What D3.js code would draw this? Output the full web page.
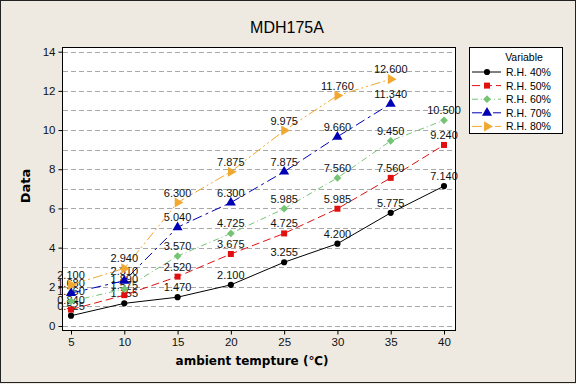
<!DOCTYPE html>
<html>
<head>
<meta charset="utf-8">
<script src="https://cdn.jsdelivr.net/npm/d3@7"></script>
<style>
  html, body { margin: 0; padding: 0; background: #eeeae2; }
  svg { display: block; }
</style>
</head>
<body>
<div id="chart"></div>
<script>
const temps = [5, 10, 15, 20, 25, 30, 35, 40];
const seriesNames = ["R.H. 40%", "R.H. 50%", "R.H. 60%", "R.H. 70%", "R.H. 80%"];
const rh40 = [0.525, 1.155, 1.470, 2.100, 3.255, 4.200, 5.775, 7.140];
const rh50 = [0.840, 1.575, 2.520, 3.675, 4.725, 5.985, 7.560, 9.240];
const rh60 = [1.260, 1.890, 3.570, 4.725, 5.985, 7.560, 9.450, 10.500];
const rh70 = [1.680, 2.310, 5.040, 6.300, 7.875, 9.660, 11.340, null];
const rh80 = [2.100, 2.940, 6.300, 7.875, 9.975, 11.760, 12.600, null];
const xTicks = [5, 10, 15, 20, 25, 30, 35, 40];
const yTicks = [0, 2, 4, 6, 8, 10, 12, 14];

document.addEventListener('DOMContentLoaded', function() {
    const width = 576, height = 384;
    const plot = { left: 62, right: 455, top: 47, bottom: 330 };

    const svg = d3.select("#chart").append("svg")
        .attr("width", width)
        .attr("height", height);

    // outer frame
    svg.append("rect")
        .attr("x", 0.5).attr("y", 0.5)
        .attr("width", width - 1).attr("height", height - 2)
        .attr("fill", "#eeeae2")
        .attr("stroke", "#222");

    const x = d3.scaleLinear().domain([5, 40]).range([71, 444]);
    const y = d3.scaleLinear().domain([0, 14]).range([326, 51.7]);

    svg.append("rect")
        .attr("x", plot.left + 0.5).attr("y", plot.top + 0.5)
        .attr("width", plot.right - plot.left).attr("height", plot.bottom - plot.top)
        .attr("fill", "white")
        .attr("stroke", "black");

    // gridlines every unit
    svg.append("g").selectAll("line")
        .data(d3.range(0, 15))
        .enter().append("line")
        .attr("x1", plot.left + 1).attr("x2", plot.right)
        .attr("y1", d => Math.round(y(d)) + 0.5)
        .attr("y2", d => Math.round(y(d)) + 0.5)
        .attr("stroke", "#a8a8a8")
        .attr("stroke-dasharray", "5,3");

    const xAxis = d3.axisBottom(x).tickValues(xTicks).tickSize(4).tickPadding(3);
    const yAxis = d3.axisLeft(y).tickValues(yTicks).tickSize(4).tickPadding(3);

    const gx = svg.append("g")
        .attr("transform", `translate(0,${plot.bottom + 0.5})`)
        .call(xAxis);
    const gy = svg.append("g")
        .attr("transform", `translate(${plot.left + 0.5},0)`)
        .call(yAxis);

    [gx, gy].forEach(g => {
        g.select(".domain").remove();
        g.selectAll("text")
            .attr("fill", "#111")
            .style("font-family", "'Liberation Sans', Arial, sans-serif")
            .style("font-size", "11.5px");
    });

    svg.append("text")
        .attr("x", 287).attr("y", 33)
        .attr("text-anchor", "middle")
        .style("font-family", "'Liberation Sans', Arial, sans-serif")
        .style("font-size", "16px")
        .text("MDH175A");

    svg.append("text")
        .attr("x", 252).attr("y", 365)
        .attr("text-anchor", "middle")
        .style("font-family", "'DejaVu Sans', sans-serif")
        .style("font-weight", "bold")
        .style("font-size", "12px")
        .text("ambient tempture (℃)");

    svg.append("text")
        .attr("transform", "translate(30,186) rotate(-90)")
        .attr("text-anchor", "middle")
        .style("font-family", "'DejaVu Sans', sans-serif")
        .style("font-weight", "bold")
        .style("font-size", "13px")
        .text("Data");

    const symbols = {
        circle: d3.symbol().type(d3.symbolCircle).size(30),
        square: d3.symbol().type(d3.symbolSquare).size(36),
        diamond: d3.symbol().type(d3.symbolSquare).size(30),
        triangle: d3.symbol().type(d3.symbolTriangle).size(44),
        arrow: d3.symbol().type(d3.symbolTriangle).size(44)
    };

    const series = [
        { name: seriesNames[0], values: rh40, color: "#000000", dash: null, marker: "circle", rot: 0 },
        { name: seriesNames[1], values: rh50, color: "#e01010", dash: "8,4", marker: "square", rot: 0 },
        { name: seriesNames[2], values: rh60, color: "#74c474", dash: "6,3,1,3", marker: "diamond", rot: 45 },
        { name: seriesNames[3], values: rh70, color: "#0000b4", dash: "10,4,3,4", marker: "triangle", rot: 0 },
        { name: seriesNames[4], values: rh80, color: "#f0a830", dash: "10,3,2,3,2,3", marker: "arrow", rot: 90 }
    ];

    const line = d3.line()
        .x(d => x(d.t))
        .y(d => y(d.v));

    series.forEach(s => {
        const pts = temps.map((t, i) => ({ t: t, v: s.values[i] })).filter(d => d.v !== null);

        svg.append("path")
            .datum(pts)
            .attr("d", line)
            .attr("fill", "none")
            .attr("stroke", s.color)
            .attr("stroke-width", 1)
            .attr("stroke-dasharray", s.dash);

        svg.append("g").selectAll("path")
            .data(pts)
            .enter().append("path")
            .attr("d", symbols[s.marker])
            .attr("transform", d => `translate(${x(d.t)},${y(d.v)}) rotate(${s.rot})`)
            .attr("fill", s.color);

        svg.append("g").selectAll("text")
            .data(pts)
            .enter().append("text")
            .attr("x", d => x(d.t))
            .attr("y", d => y(d.v) - 6)
            .attr("text-anchor", "middle")
            .attr("fill", "#111")
            .style("font-family", "'Liberation Sans Narrow', 'Liberation Sans', Arial, sans-serif")
            .style("font-size", "11px")
            .text(d => d.v.toFixed(3));
    });

    // legend
    const lg = svg.append("g");
    lg.append("rect")
        .attr("x", 469.5).attr("y", 47.5)
        .attr("width", 93).attr("height", 86)
        .attr("fill", "white")
        .attr("stroke", "black");

    lg.append("text")
        .attr("x", 524).attr("y", 61)
        .attr("text-anchor", "middle")
        .style("font-family", "'Liberation Sans', Arial, sans-serif")
        .style("font-size", "10.5px")
        .text("Variable");

    const items = lg.selectAll(".legend")
        .data(series)
        .enter().append("g")
        .attr("class", "legend")
        .attr("transform", (d, i) => `translate(0,${72 + i * 13.6})`);

    items.append("line")
        .attr("x1", 472).attr("x2", 501)
        .attr("y1", 0).attr("y2", 0)
        .attr("stroke", d => d.color)
        .attr("stroke-dasharray", d => d.dash);

    items.append("path")
        .attr("d", d => symbols[d.marker]())
        .attr("transform", d => `translate(487,0) rotate(${d.rot})`)
        .attr("fill", d => d.color);

    items.append("text")
        .attr("x", 506).attr("y", 4)
        .style("font-family", "'Liberation Sans', Arial, sans-serif")
        .style("font-size", "10.5px")
        .text(d => d.name);
});
</script>
</body>
</html>
